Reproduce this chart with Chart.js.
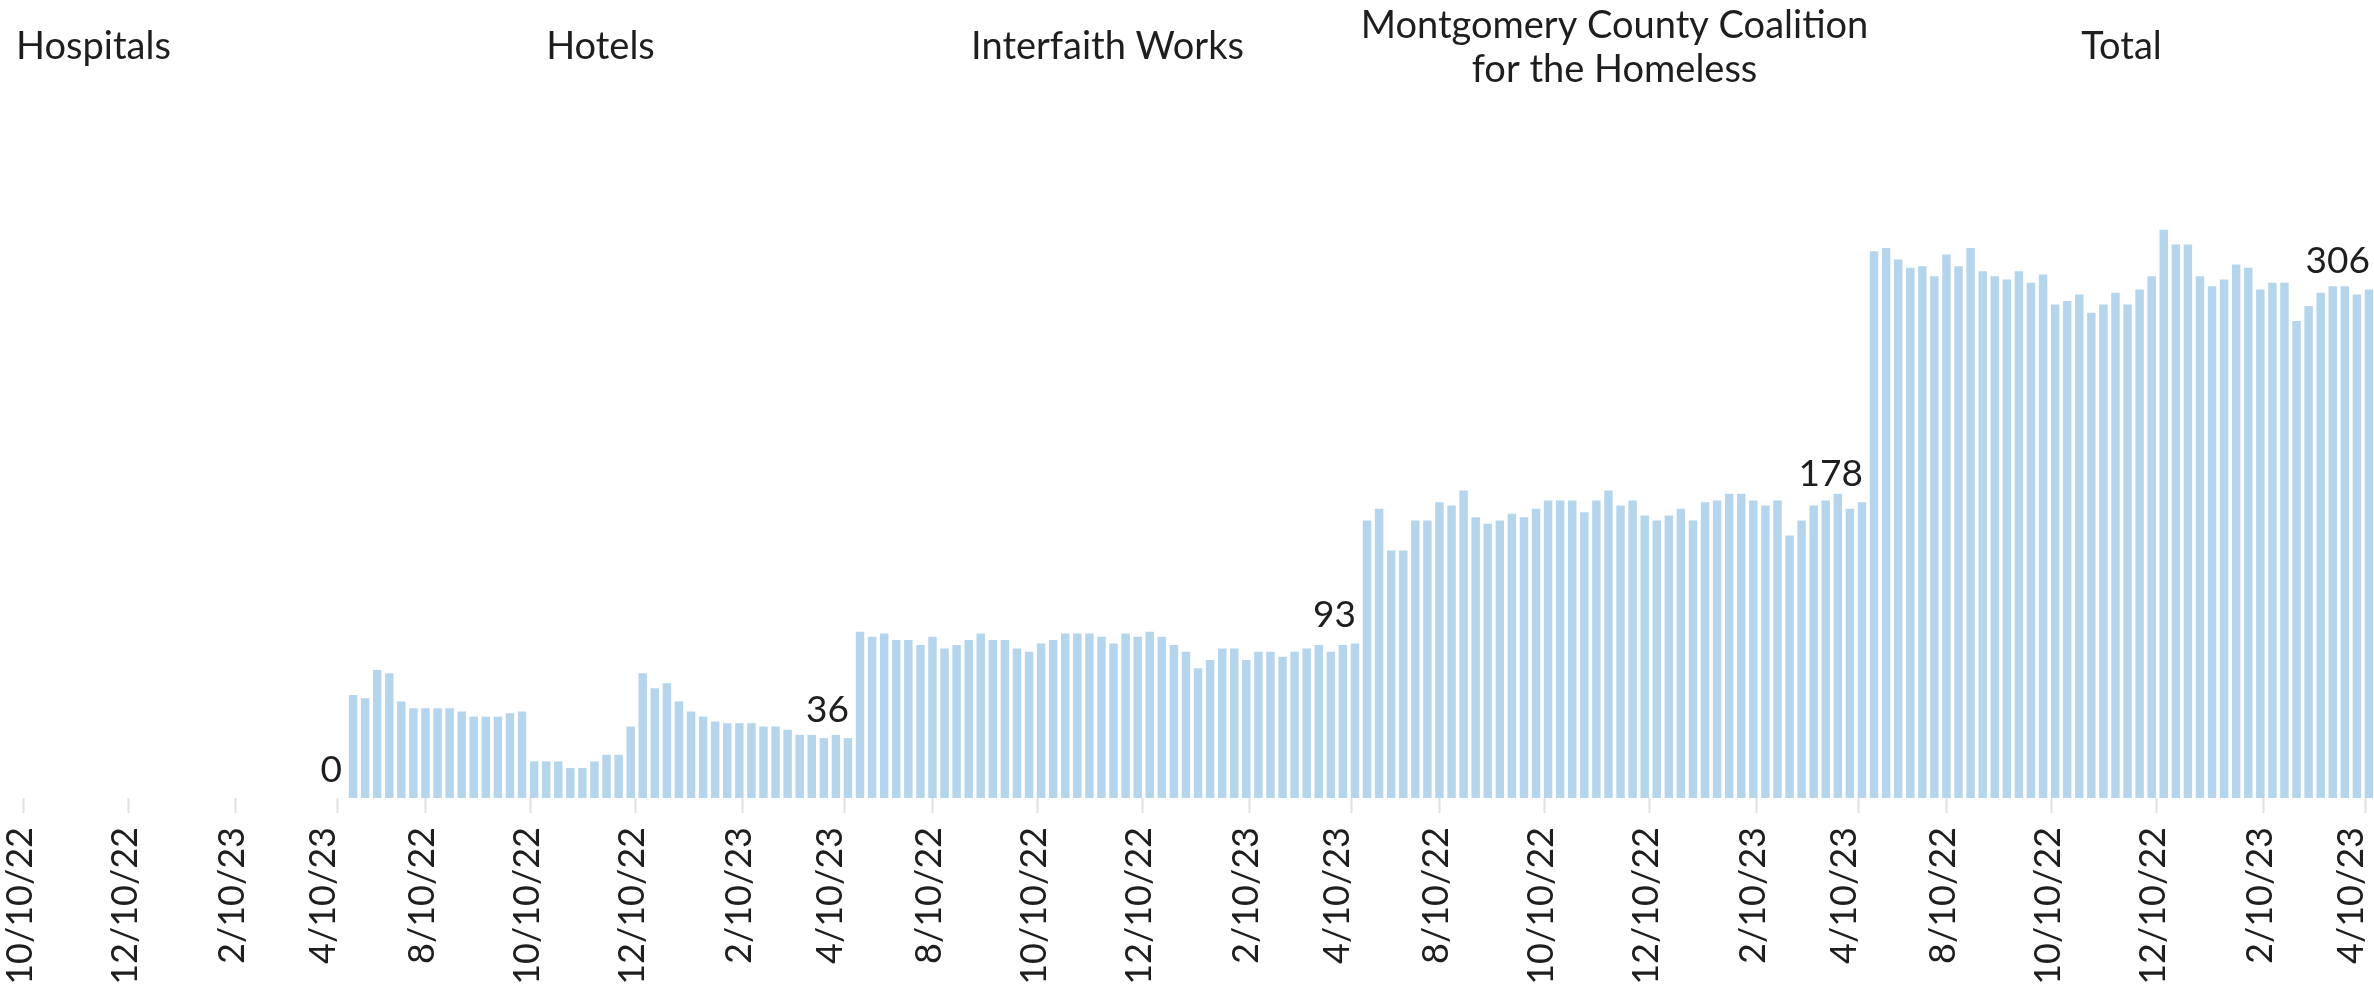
<!DOCTYPE html>
<html>
<head>
<meta charset="utf-8">
<script src="https://cdn.jsdelivr.net/npm/chart.js@4.4.0/dist/chart.umd.min.js"></script>
<style>
  html, body { margin: 0; padding: 0; background: #fff; overflow: hidden; }
  /* the first pane is cut off on the left, as in the original */
  #wrap { position: absolute; left: -160px; top: 0; width: 2535px; height: 991px; }
</style>
</head>
<body>
<div id="wrap"><canvas id="chart"></canvas></div>
<script>
// weekly dates, same for every pane
const weeks = [
  '6/29/22', '7/6/22', '7/13/22', '7/20/22', '7/27/22', '8/3/22', '8/10/22', '8/17/22',
  '8/24/22', '8/31/22', '9/7/22', '9/14/22', '9/21/22', '9/28/22', '10/5/22', '10/12/22',
  '10/19/22', '10/26/22', '11/2/22', '11/9/22', '11/16/22', '11/23/22', '11/30/22', '12/7/22',
  '12/14/22', '12/21/22', '12/28/22', '1/4/23', '1/11/23', '1/18/23', '1/25/23', '2/1/23',
  '2/8/23', '2/15/23', '2/22/23', '3/1/23', '3/8/23', '3/15/23', '3/22/23', '3/29/23',
  '4/5/23', '4/12/23'
];

const panels = [
  'Hospitals',
  'Hotels',
  'Interfaith Works',
  'Montgomery County Coalition\nfor the Homeless',
  'Total'
];

const hospitals = [
  0, 0, 0, 0, 0, 0, 0, 0, 0, 0, 0, 0, 0, 0, 0, 0, 0, 0, 0, 0, 0,
  0, 0, 0, 0, 0, 0, 0, 0, 0, 0, 0, 0, 0, 0, 0, 0, 0, 0, 0, 0, 0
];
const hotels = [
  62, 60, 77, 75, 58, 54, 54, 54, 54, 52, 49, 49, 49, 51, 52, 22, 22, 22, 18, 18, 22,
  26, 26, 43, 75, 66, 69, 58, 52, 49, 46, 45, 45, 45, 43, 43, 41, 38, 38, 36, 38, 36
];
const interfaith = [
  100, 97, 99, 95, 95, 92, 97, 90, 92, 95, 99, 95, 95, 90, 88, 93, 95, 99, 99, 99, 97,
  93, 99, 97, 100, 97, 92, 88, 78, 83, 90, 90, 83, 88, 88, 85, 88, 90, 92, 88, 92, 93
];
const coalition = [
  167, 174, 149, 149, 167, 167, 178, 176, 185, 169, 165, 167, 171, 169, 174, 179, 179, 179, 172, 179, 185,
  176, 179, 170, 167, 170, 174, 167, 178, 179, 183, 183, 179, 176, 179, 158, 167, 176, 179, 183, 174, 178
];
const total = [
  329, 331, 324, 319, 320, 314, 327, 320, 331, 317, 314, 312, 317, 310, 315, 297, 299, 303, 292, 297, 304,
  297, 306, 314, 342, 333, 333, 314, 308, 312, 321, 319, 306, 310, 310, 287, 296, 304, 308, 308, 303, 306
];

const tickLabels = ['8/10/22', '10/10/22', '12/10/22', '2/10/23', '4/10/23'];

const series = [hospitals, hotels, interfaith, coalition, total];
const barColor = '#b4d5eb';
const textColor = '#1e1e1e';
const fontFamily = 'Lato, "Open Sans", sans-serif';

function dayNum(s) {
  const [m, d, y] = s.split('/').map(Number);
  return Date.UTC(2000 + y, m - 1, d) / 86400000;
}

const n = weeks.length;
const start = dayNum(weeks[0]);
// tick positions in "week" units inside one pane
const tickPos = tickLabels.map(t => (dayNum(t) - start) / 7);

const datasets = series.map((vals, p) => ({
  label: panels[p],
  data: vals.map((v, i) => ({ x: p * n + i, y: v })),
  backgroundColor: barColor,
  borderWidth: 0,
  barPercentage: 0.7,
  categoryPercentage: 1.0,
  grouped: false
}));

// pane titles, last value labels and rotated date labels
const paneText = {
  id: 'paneText',
  afterDatasetsDraw(chart) {
    const ctx = chart.ctx;
    const xs = chart.scales.x;
    const ys = chart.scales.y;
    ctx.save();
    ctx.fillStyle = textColor;

    // titles
    ctx.font = '38px ' + fontFamily;
    ctx.textAlign = 'center';
    ctx.textBaseline = 'alphabetic';
    panels.forEach((title, p) => {
      const cx = xs.getPixelForValue(p * n + (n - 1) / 2);
      const lines = title.split('\n');
      if (lines.length === 1) {
        ctx.fillText(lines[0], cx, 59);
      } else {
        ctx.fillText(lines[0], cx, 38);
        ctx.fillText(lines[1], cx, 82);
      }
    });

    // last value of each pane
    ctx.font = '37px ' + fontFamily;
    ctx.textAlign = 'right';
    series.forEach((vals, p) => {
      const last = vals[vals.length - 1];
      const bx = xs.getPixelForValue(p * n + n - 1);
      const by = ys.getPixelForValue(last);
      ctx.fillText(String(last), bx + 1, by - 16);
    });

    // date labels, rotated
    ctx.font = '36px ' + fontFamily;
    ctx.textAlign = 'right';
    ctx.textBaseline = 'middle';
    for (let p = 0; p < panels.length; p++) {
      tickPos.forEach((t, j) => {
        let x = xs.getPixelForValue(p * n + t) - 3;
        if (j === tickPos.length - 1) x -= 11; // kept inside its pane
        ctx.save();
        ctx.translate(x, 827);
        ctx.rotate(-Math.PI / 2);
        ctx.fillText(tickLabels[j], 0, 0);
        ctx.restore();
      });
    }
    ctx.restore();
  }
};

new Chart(document.getElementById('chart'), {
  type: 'bar',
  data: { datasets },
  options: {
    responsive: true,
    maintainAspectRatio: false,
    animation: false,
    layout: { padding: { top: 100, bottom: 178, left: 0, right: 0 } },
    plugins: {
      legend: { display: false },
      tooltip: { enabled: false }
    },
    scales: {
      x: {
        type: 'linear',
        offset: false,
        min: -0.5,
        max: panels.length * n - 0.5,
        afterBuildTicks(scale) {
          const ticks = [];
          for (let p = 0; p < panels.length; p++) {
            tickPos.forEach(t => ticks.push({ value: p * n + t }));
          }
          scale.ticks = ticks;
        },
        ticks: { display: false },
        grid: {
          offset: false,
          drawOnChartArea: false,
          drawTicks: true,
          tickLength: 15,
          tickColor: '#e0e0e0',
          tickWidth: 2
        },
        border: { display: false }
      },
      y: {
        display: false,
        min: 0,
        max: 420
      }
    }
  },
  plugins: [paneText]
});
</script>
</body>
</html>
